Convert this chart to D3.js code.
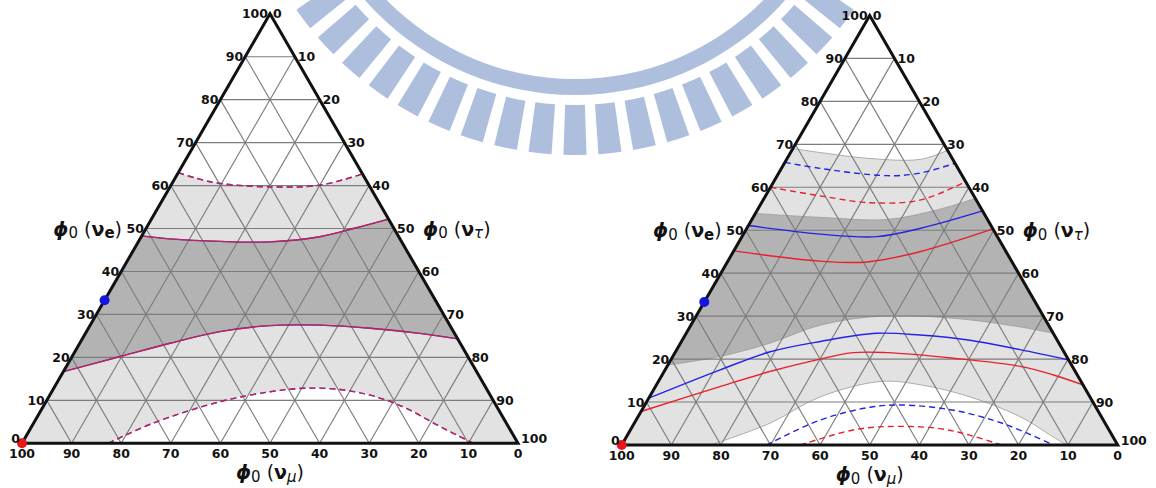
<!DOCTYPE html>
<html>
<head>
<meta charset="utf-8">
<script src="https://cdn.jsdelivr.net/npm/d3@7"></script>
<style>
  body { margin: 0; background: #fff; }
  svg { display: block; }
  text { font-family: "DejaVu Sans", sans-serif; }
</style>
</head>
<body>
<svg id="chart" width="1156" height="488"></svg>
<script>
// every point is [phi(nu_e), phi(nu_tau)] in percent, phi(nu_mu) = 100 - e - tau
const gridSteps = d3.range(10, 100, 10);
const tickValues = d3.range(0, 101, 10);

// left panel: red and blue coincide
const leftTopDashed = [[63, 0], [61.7, 4.3], [60.5, 9.7], [59.7, 20.2], [60.1, 30], [62.7, 37.3]];
const leftUpperSolid = [[48.3, 0], [47.6, 6], [47, 16.4], [46.9, 26.5], [48.1, 36], [50, 41.8], [52.2, 47.8]];
const leftLowerSolid = [[16.7, 0], [20.2, 9.7], [23.3, 18.2], [26, 26.9], [27.4, 36.3], [27.5, 46.4], [26.8, 56.8], [25.6, 67.4], [24.3, 75.7]];
const leftBottomDashed = [[0, 17.4], [4.7, 24.1], [9.7, 35.1], [12, 44], [12.8, 50.3], [12.6, 57.1], [11.2, 64.6], [8.5, 72.6], [4.3, 81.5], [0, 91]];

// right panel: band edges
const rightBandTop = [[69, 0], [68.1, 5.9], [66.7, 16.7], [66.5, 26.9], [68.6, 31.4]];
const rightDarkTop = [[53.9, 0], [53, 13.5], [52.5, 27.2], [54.7, 36.1], [57.4, 42.6]];
const rightDarkBottom = [[18.6, 0], [20.6, 9.5], [23.7, 18], [27.9, 26.1], [30, 37.1], [29.5, 52.1], [27.5, 66.5], [26, 74]];
const rightBandBottom = [[0, 18], [5.1, 27.4], [11.2, 34.4], [14.8, 44.9], [14, 53.3], [11.2, 64.6], [6.6, 77], [1.9, 86], [0, 89.7]];

// right panel: blue and red lines
const blueDashTop = [[65.8, 0], [64.4, 7.8], [62.7, 22.1], [63.3, 28.5], [65.6, 34.4]];
const redDashTop = [[60, 0], [58, 11], [56.4, 21.9], [57, 31.6], [61.3, 38.7]];
const blueSolidUp = [[51.1, 0], [49.1, 15.4], [48.5, 27.2], [50.4, 34.9], [54.5, 45.5]];
const redSolidUp = [[45.2, 0], [42.8, 18.6], [42.6, 28.1], [45, 37.6], [50.3, 49.7]];
const blueSolidLow = [[10.9, 0], [17.5, 11.1], [21.7, 19.1], [24.1, 28], [26, 38.4], [25.6, 47.3], [24.4, 58], [22.2, 69.2], [19.8, 80.2]];
const redSolidLow = [[7.8, 0], [13.6, 13], [17.1, 21.3], [20, 30], [21.5, 36], [21.5, 42.7], [20.2, 56.8], [18.3, 71.2], [16.3, 78.9], [14, 86]];
const blueDashLow = [[0, 29.2], [5.8, 37.1], [8.8, 45.7], [9.3, 52.1], [8.1, 62.8], [5, 74.4], [0, 87]];
const redDashLow = [[0, 36], [3.5, 44.9], [4.3, 51.3], [3.9, 61.6], [2.3, 69], [0, 76.5]];

// best-fit points
const bluePoint = [33.3, 0];
const redPoint = [0, 0];

const LIGHT = '#e2e2e2';
const DARK = '#b3b3b3';
const BLUE = '#2323e6';
const RED = '#e8202e';

const svg = d3.select('#chart');

// watermark (logo arc behind the plots)
const wm = svg.append('g').attr('transform', 'translate(575,-185)').attr('fill', '#aebfde');
wm.append('path').attr('d', d3.arc().innerRadius(264).outerRadius(280).startAngle(0).endAngle(2 * Math.PI)());
const toothPitch = 5.9 * Math.PI / 180;
const toothHalf = 1.95 * Math.PI / 180;
d3.range(-16, 17).forEach(k => {
  const a = Math.PI + k * toothPitch;
  wm.append('path').attr('d', d3.arc().innerRadius(290).outerRadius(340).startAngle(a - toothHalf).endAngle(a + toothHalf)());
});

function drawTernary(cfg) {
  const g = svg.append('g');
  const h = cfg.w * Math.sqrt(3) / 2;
  const px = d3.scaleLinear().domain([0, 100]).range([cfg.x0, cfg.x0 + cfg.w]);
  const py = d3.scaleLinear().domain([0, 100]).range([cfg.y0, cfg.y0 - h]);
  const X = d => px(d[1] + d[0] / 2);
  const Y = d => py(d[0]);
  const pt = d => `${X(d)},${Y(d)}`;

  const apex = [100, 0], bl = [0, 0], br = [0, 100];
  const line = d3.line().x(X).y(Y).curve(d3.curveCatmullRom.alpha(0.5));

  // shading
  g.append('path').attr('fill', LIGHT).attr('d', `M${pt(apex)}L${pt(bl)}L${pt(br)}Z`);
  g.append('path').attr('fill', '#fff').attr('d', line(cfg.top) + `L${pt(apex)}Z`);
  g.append('path').attr('fill', '#fff').attr('d', line(cfg.bottom) + 'Z');
  g.append('path').attr('fill', DARK)
    .attr('d', line(cfg.darkTop) + line(cfg.darkBottom.slice().reverse()).replace(/^M/, 'L') + 'Z');
  if (cfg.outline) {
    [cfg.top, cfg.darkTop, cfg.darkBottom, cfg.bottom].forEach(c => {
      g.append('path').attr('fill', 'none').attr('stroke', '#9a9a9a').attr('stroke-width', 0.8).attr('d', line(c));
    });
  }

  // grid
  const grid = g.append('g').attr('stroke', '#7d7d7d').attr('stroke-width', 1.15);
  gridSteps.forEach(k => {
    grid.append('line').attr('x1', X([k, 0])).attr('y1', Y([k, 0])).attr('x2', X([k, 100 - k])).attr('y2', Y([k, 100 - k]));
    grid.append('line').attr('x1', X([0, k])).attr('y1', Y([0, k])).attr('x2', X([100 - k, k])).attr('y2', Y([100 - k, k]));
    grid.append('line').attr('x1', X([0, 100 - k])).attr('y1', Y([0, 100 - k])).attr('x2', X([100 - k, 0])).attr('y2', Y([100 - k, 0]));
  });

  // curves
  cfg.lines.forEach(l => {
    g.append('path')
      .attr('fill', 'none')
      .attr('stroke', l.color)
      .attr('stroke-width', 1.4)
      .attr('stroke-opacity', l.opacity || 1)
      .attr('stroke-dasharray', l.dashed ? '6,4' : 'none')
      .attr('d', line(l.values));
  });

  // border
  g.append('path').attr('fill', 'none').attr('stroke', '#111').attr('stroke-width', 3)
    .attr('stroke-linejoin', 'miter')
    .attr('d', `M${pt(apex)}L${pt(bl)}L${pt(br)}Z`);

  // markers
  g.append('circle').attr('cx', X(bluePoint)).attr('cy', Y(bluePoint)).attr('r', 5).attr('fill', '#1515e0');
  g.append('circle').attr('cx', X(redPoint)).attr('cy', Y(redPoint)).attr('r', 5).attr('fill', '#e81818');

  // tick labels (corner labels nudged up so they clear the bottom row)
  const ticks = g.append('g').attr('font-size', 12.5).attr('font-weight', 'bold').attr('fill', '#111');
  tickValues.forEach(v => {
    ticks.append('text').attr('x', X([v, 0]) - 2).attr('y', Y([v, 0]) - (v === 0 ? 4.5 : 0)).attr('dy', '0.36em')
      .attr('text-anchor', 'end').text(v);
    ticks.append('text').attr('x', X([100 - v, v]) + 3).attr('y', Y([100 - v, v]) - (v === 100 ? 4.5 : 0)).attr('dy', '0.36em')
      .attr('text-anchor', 'start').text(v);
    ticks.append('text').attr('x', X([0, 100 - v])).attr('y', cfg.y0 + 15)
      .attr('text-anchor', 'middle').text(v);
  });

  // axis titles
  const mid = 50;
  title(g, X([mid, 0]) - 24, Y([mid, 0]) + 7, 'end', 'e', false);
  title(g, X([mid, mid]) + 29, Y([mid, mid]) + 7, 'start', 'τ', true);
  title(g, X([0, 50]), cfg.y0 + 36, 'middle', 'μ', true);
}

function title(g, x, y, anchor, sub, italicSub) {
  const t = g.append('text').attr('x', x).attr('y', y).attr('text-anchor', anchor)
    .attr('font-size', 19).attr('fill', '#111');
  t.append('tspan').attr('font-weight', 'bold').attr('font-style', 'italic').text('ϕ');
  t.append('tspan').attr('font-size', 15).attr('dy', 2.5).text('0');
  t.append('tspan').attr('dy', -2.5).text(' (');
  t.append('tspan').attr('font-weight', 'bold').text('ν');
  t.append('tspan').attr('font-size', 15).attr('dy', 2.5).attr('font-weight', italicSub ? 'normal' : 'bold')
    .attr('font-style', italicSub ? 'italic' : 'normal').text(sub);
  t.append('tspan').attr('dy', -2.5).text(')');
}

drawTernary({
  x0: 22, y0: 443.3, w: 496,
  top: leftTopDashed, bottom: leftBottomDashed,
  darkTop: leftUpperSolid, darkBottom: leftLowerSolid,
  outline: false,
  lines: [
    { values: leftTopDashed, color: BLUE, dashed: true },
    { values: leftTopDashed, color: RED, dashed: true, opacity: 0.8 },
    { values: leftUpperSolid, color: BLUE },
    { values: leftUpperSolid, color: RED, opacity: 0.8 },
    { values: leftLowerSolid, color: BLUE },
    { values: leftLowerSolid, color: RED, opacity: 0.8 },
    { values: leftBottomDashed, color: BLUE, dashed: true },
    { values: leftBottomDashed, color: RED, dashed: true, opacity: 0.8 }
  ]
});

drawTernary({
  x0: 621.7, y0: 445, w: 496,
  top: rightBandTop, bottom: rightBandBottom,
  darkTop: rightDarkTop, darkBottom: rightDarkBottom,
  outline: true,
  lines: [
    { values: blueDashTop, color: BLUE, dashed: true },
    { values: redDashTop, color: RED, dashed: true },
    { values: blueSolidUp, color: BLUE },
    { values: redSolidUp, color: RED },
    { values: blueSolidLow, color: BLUE },
    { values: redSolidLow, color: RED },
    { values: blueDashLow, color: BLUE, dashed: true },
    { values: redDashLow, color: RED, dashed: true }
  ]
});
</script>
</body>
</html>
